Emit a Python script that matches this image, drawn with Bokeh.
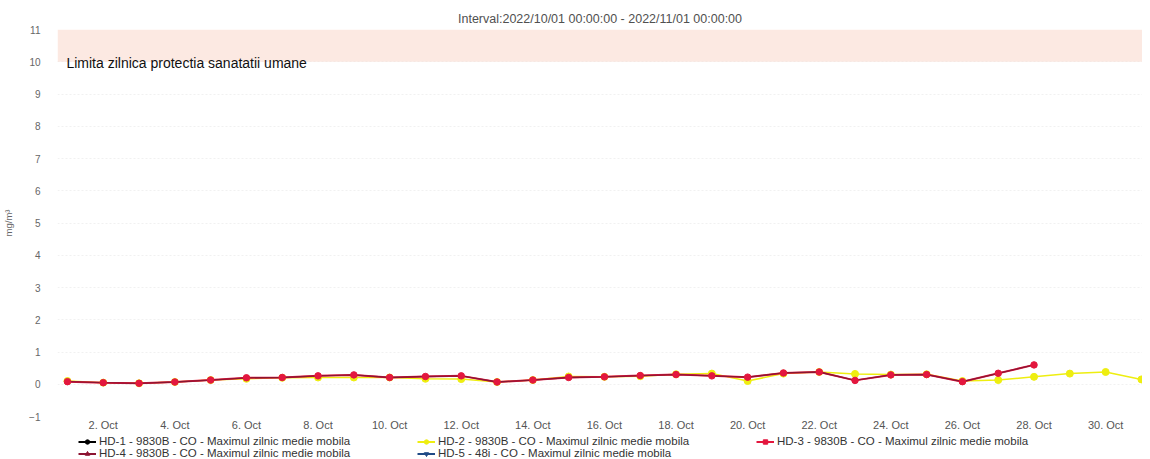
from bokeh.plotting import figure
from bokeh.layouts import column
from bokeh.models import (Range1d, FixedTicker, BoxAnnotation, Label, Legend, LegendItem,
                          ColumnDataSource)
from bokeh.embed import file_html
from bokeh.resources import INLINE

# ---------------- data ----------------
title_text = "Interval:2022/10/01 00:00:00 - 2022/11/01 00:00:00"
y_label = "mg/m³"
limit_label = "Limita zilnica protectia sanatatii umane"
limit_low = 10
limit_high = 11

days_hd2 = list(range(1, 32))
hd2 = [0.10, 0.05, 0.03, 0.07, 0.13, 0.17, 0.20, 0.21, 0.21, 0.21, 0.17, 0.16, 0.07, 0.13,
       0.24, 0.23, 0.25, 0.31, 0.33, 0.10, 0.33, 0.38, 0.32, 0.30, 0.31, 0.10, 0.13, 0.23,
       0.33, 0.38, 0.15]

days_hd3 = list(range(1, 29))
hd3 = [0.08, 0.05, 0.03, 0.07, 0.13, 0.20, 0.21, 0.26, 0.29, 0.21, 0.24, 0.26, 0.07, 0.13,
       0.21, 0.23, 0.27, 0.30, 0.26, 0.22, 0.35, 0.38, 0.12, 0.29, 0.30, 0.08, 0.34, 0.60]

days_hd4 = list(range(1, 29))
hd4 = [0.08, 0.05, 0.03, 0.07, 0.13, 0.20, 0.21, 0.26, 0.29, 0.21, 0.24, 0.26, 0.07, 0.13,
       0.21, 0.23, 0.27, 0.30, 0.26, 0.22, 0.35, 0.38, 0.12, 0.29, 0.30, 0.08, 0.34, 0.60]

# no measurements shown for these two stations (missing values)
days_hd1 = [1]
hd1 = [float("nan")]
days_hd5 = [1]
hd5 = [float("nan")]

series_names = [
    "HD-1 - 9830B - CO - Maximul zilnic medie mobila",
    "HD-2 - 9830B - CO - Maximul zilnic medie mobila",
    "HD-3 - 9830B - CO - Maximul zilnic medie mobila",
    "HD-4 - 9830B - CO - Maximul zilnic medie mobila",
    "HD-5 - 48i - CO - Maximul zilnic medie mobila",
]

x_ticks = list(range(2, 31, 2))
x_tick_labels = [f"{d}. Oct" for d in x_ticks]
y_ticks = list(range(-1, 12))

# ---------------- main figure ----------------
FONT = "Liberation Sans"
p = figure(width=1142, height=433, output_backend="svg", toolbar_location=None,
           x_range=Range1d(0.722, 31.03), y_range=Range1d(-1, 11),
           min_border_left=53, min_border_right=0, min_border_top=29, min_border_bottom=15)
p.outline_line_color = None
p.background_fill_color = "white"

p.title.text = title_text
p.title.align = "center"
p.title.text_font = FONT
p.title.text_font_size = "12.5px"
p.title.text_font_style = "normal"
p.title.text_color = "#505050"
p.title.offset = 0
p.title.standoff = 8

# band
p.add_layout(BoxAnnotation(bottom=limit_low, top=limit_high, fill_color="#fbe3db",
                           fill_alpha=0.8, line_color=None, level="underlay"))
p.add_layout(Label(x=1, y=limit_low, text=limit_label, text_font=FONT, text_font_size="14px",
                   text_color="#111111", text_baseline="middle", y_offset=-1, x_offset=-1))

# axes
xa = p.xaxis[0]
xa.ticker = FixedTicker(ticks=x_ticks)
xa.major_label_overrides = {t: l for t, l in zip(x_ticks, x_tick_labels)}
xa.axis_line_color = None
xa.major_tick_line_color = None
xa.minor_tick_line_color = None
xa.major_tick_out = 0
xa.major_tick_in = 0
xa.minor_tick_out = 0
xa.major_label_text_font = FONT
xa.major_label_text_font_size = "11px"
xa.major_label_text_color = "#555555"
xa.major_label_standoff = 2

ya = p.yaxis[0]
ya.ticker = FixedTicker(ticks=y_ticks)
ya.axis_line_color = None
ya.major_tick_line_color = None
ya.minor_tick_line_color = None
ya.major_tick_out = 0
ya.major_tick_in = 0
ya.minor_tick_out = 0
ya.major_label_text_font = FONT
ya.major_label_text_font_size = "10px"
ya.major_label_text_color = "#666666"
ya.major_label_standoff = 17
ya.axis_label = y_label
ya.axis_label_text_font = FONT
ya.axis_label_text_font_size = "9.5px"
ya.axis_label_text_font_style = "normal"
ya.axis_label_text_color = "#666666"
ya.axis_label_standoff = 12

p.xgrid.grid_line_color = None
p.ygrid.grid_line_color = "#f1f1f1"
p.ygrid.grid_line_dash = "2 2"

# series
colors = ["#000000", "#eeee10", "#e3173e", "#8c1432", "#1f4a86"]
markers = ["circle", "circle", "square", "triangle", "inverted_triangle"]
data = [(days_hd1, hd1), (days_hd2, hd2), (days_hd3, hd3), (days_hd4, hd4), (days_hd5, hd5)]

yellow_src = ColumnDataSource(dict(x=days_hd2, y=hd2))
p.line("x", "y", source=yellow_src, line_color=colors[1], line_width=1.5)
p.scatter("x", "y", source=yellow_src, marker="circle", size=7,
          fill_color=colors[1], line_color=colors[1])
red_src = ColumnDataSource(dict(x=days_hd3, y=hd3))
p.line("x", "y", source=red_src, line_color=colors[2], line_width=2)
maroon_src = ColumnDataSource(dict(x=days_hd4, y=hd4))
p.line("x", "y", source=maroon_src, line_color=colors[3], line_width=1.3)
p.scatter("x", "y", source=red_src, marker="circle", size=6.5,
          fill_color=colors[2], line_color=colors[2])

# ---------------- legend strip ----------------
lg = figure(width=1142, height=26, output_backend="svg", toolbar_location=None,
            x_range=Range1d(0, 1), y_range=Range1d(0, 1),
            min_border=0, x_axis_location=None, y_axis_location=None)
lg.outline_line_color = None
lg.xgrid.visible = False
lg.ygrid.visible = False
items = []
for i in range(5):
    xs, ys = data[i]
    src = ColumnDataSource(dict(x=[xs[0]], y=[float("nan")]))
    ln = lg.line("x", "y", source=src, line_color=colors[i], line_width=2)
    mk = lg.scatter("x", "y", source=src, marker=markers[i], size=7,
                    fill_color=colors[i], line_color=colors[i])
    items.append(LegendItem(label=series_names[i], renderers=[ln, mk]))

legend = Legend(items=items, orientation="horizontal", ncols=3, location=(21, 0),
                label_text_font=FONT, label_text_font_size="11.5px", label_text_color="#333333",
                label_height=11, glyph_height=11, glyph_width=18, label_standoff=3,
                label_width=318, spacing=0, padding=0, margin=0, border_line_color=None,
                background_fill_alpha=0)
lg.add_layout(legend, "center")

layout = column(p, lg, spacing=0)
open("out.html", "w").write(file_html(layout, INLINE))
